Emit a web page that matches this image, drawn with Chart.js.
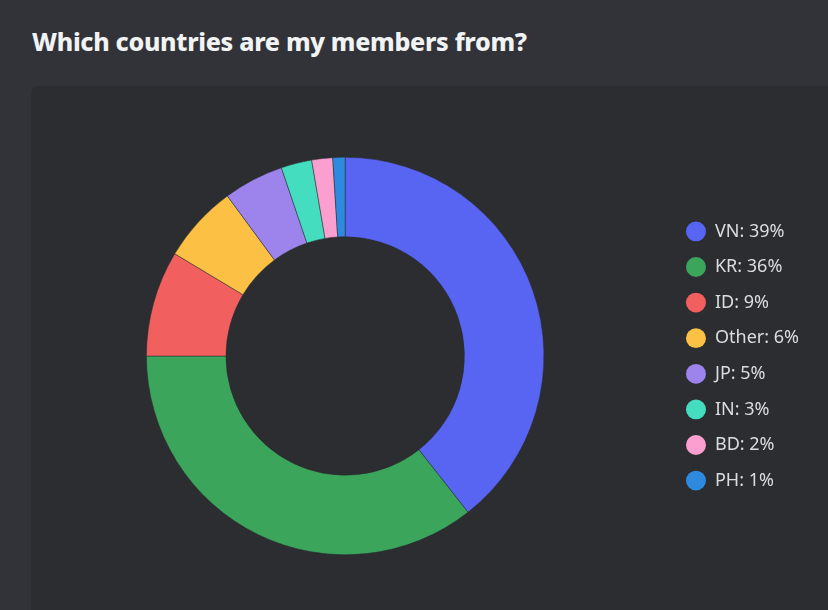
<!DOCTYPE html>
<html>
<head>
<meta charset="utf-8">
<script src="https://cdn.jsdelivr.net/npm/chart.js@4"></script>
<style>
  html, body { margin: 0; padding: 0; }
  body { width: 828px; height: 610px; background: #313338; position: relative; overflow: hidden; font-family: 'Noto Sans', sans-serif; }
  h2 { position: absolute; left: 32px; top: 24px; margin: 0; color: #f2f3f5; font-size: 25px; font-weight: 800; letter-spacing: -0.3px; }
  .panel { position: absolute; left: 31px; top: 86px; width: 820px; height: 560px; background: #2b2d31; border-radius: 8px; }
  #chart { position: absolute; left: 0; top: 0; }
</style>
</head>
<body>
<h2>Which countries are my members from?</h2>
<div class="panel"></div>
<canvas id="chart" width="828" height="610"></canvas>
<script>
const countries = ['VN', 'KR', 'ID', 'Other', 'JP', 'IN', 'BD', 'PH'];
const shares = [39.4, 35.6, 8.6, 6.3, 4.9, 2.5, 1.7, 1.0];
const colors = ['#5865f2', '#3ba55c', '#f25f5f', '#fcc144', '#9c84ec', '#45ddc0', '#fa9fcf', '#2e8ade'];

const ctx = document.getElementById('chart');

new Chart(ctx, {
  type: 'doughnut',
  data: {
    labels: countries,
    datasets: [{
      data: shares,
      backgroundColor: colors,
      borderColor: '#2b2d31',
      borderWidth: 0.5
    }]
  },
  options: {
    responsive: false,
    animation: false,
    cutout: '60%',
    layout: { padding: { top: 157, bottom: 55, left: 22, right: 19 } },
    plugins: {
      tooltip: { enabled: false },
      legend: {
        position: 'right',
        labels: {
          color: '#dbdee1',
          font: { family: "'Noto Sans', sans-serif", size: 18 },
          usePointStyle: true,
          pointStyle: 'circle',
          pointStyleWidth: 20,
          boxHeight: 14,
          padding: 17.6,
          generateLabels(chart) {
            const ds = chart.data.datasets[0];
            return chart.data.labels.map((l, i) => ({
              text: l + ': ' + Math.round(ds.data[i]) + '%',
              fillStyle: ds.backgroundColor[i],
              strokeStyle: ds.backgroundColor[i],
              fontColor: '#dbdee1',
              lineWidth: 0,
              pointStyle: 'circle',
              hidden: false,
              index: i
            }));
          }
        }
      }
    }
  }
});
</script>
</body>
</html>
